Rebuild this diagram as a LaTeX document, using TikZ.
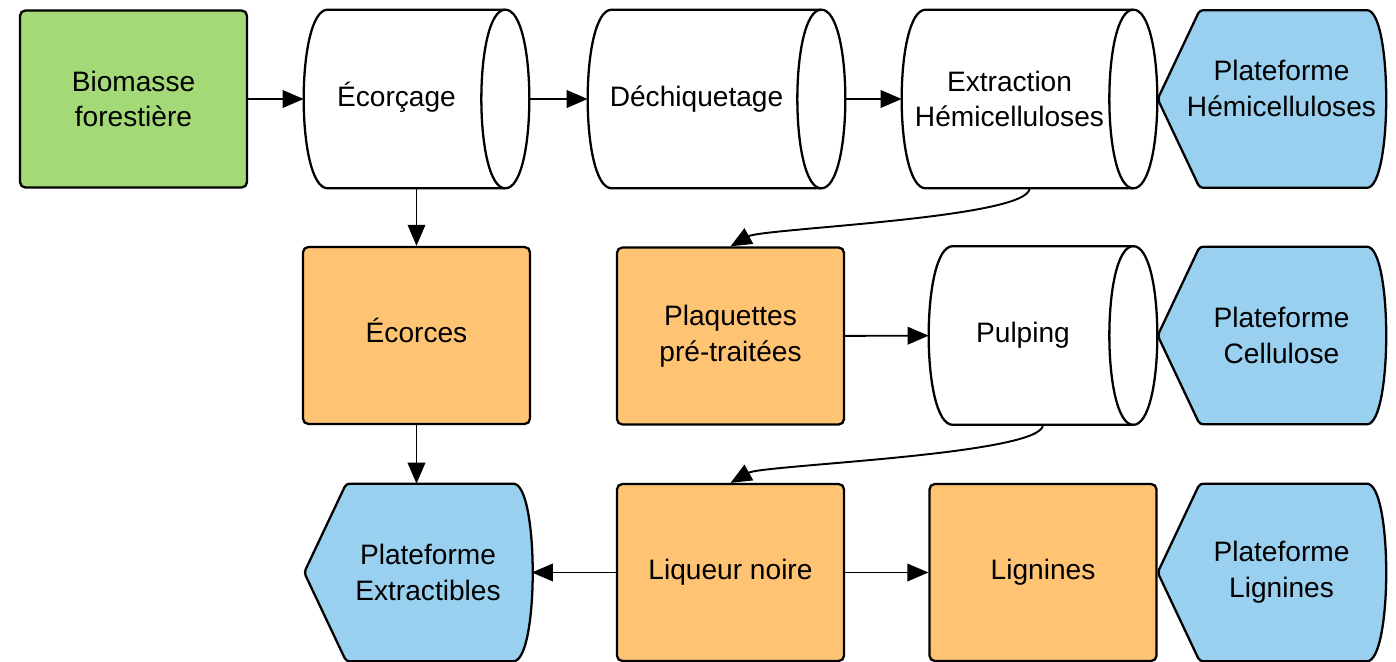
\documentclass[tikz,border=0pt]{standalone}
\usepackage{fontspec}
\setmainfont{Liberation Sans}
\usetikzlibrary{arrows.meta}
\usetikzlibrary{backgrounds}

\definecolor{vertbio}{RGB}{163,217,119}
\definecolor{orangeprod}{RGB}{255,195,116}
\definecolor{bleuplat}{RGB}{153,208,240}

\tikzset{
    retrait/.style 2 args={execute at begin node={\leftskip=#1 plus 1fil\rightskip=#2 plus 1fil\parfillskip=0pt\relax}},
    ligne/.style={text height=11.7pt, text depth=3.4pt},
    boite/.style={draw, line width=1.3pt, rounded corners=3pt, minimum width=4.54cm,
        minimum height=3.54cm, align=center, inner sep=0pt},
    produit/.style={boite, fill=orangeprod},
    procede/.style={minimum height=3.56cm, inner sep=0pt, text width=4.4cm, align=center, retrait={0pt}{0.8cm}},
    plateforme/.style={minimum width=4.54cm, minimum height=3.54cm, inner sep=0pt, text width=4.4cm,
        align=center, retrait={0.4cm}{0pt}},
    cylindre/.style={draw, line width=1.3pt, fill=white},
    contour/.style={draw, line width=1.3pt, fill=bleuplat, rounded corners=2pt},
    fleche/.style={line width=1.1pt, -{Triangle[length=12pt,width=10pt]}},
}

\begin{document}
\begin{tikzpicture}[x=0.02cm,y=-0.02cm,font=\fontsize{16}{20.4}\selectfont]
                \useasboundingbox (0,0) rectangle (1396,662);

                \node[boite, fill=vertbio] (bio) at (133.5,99) {Biomasse\\forestière};
                \node[procede, ligne, minimum width=4.5cm] (ecor) at (416.5,99) {Écorçage};
                \node[procede, ligne, minimum width=5.14cm] (dech) at (716.5,99) {Déchiquetage};
                \node[procede, minimum width=5.1cm, text width=4.8cm] (extr) at (1029.5,99) {Extraction\\Hémicelluloses};
                \node[plateforme, text depth=33pt] (phemi) at (1271.5,99) {Plateforme\\Hémicelluloses};

                \node[produit, ligne] (ecorces) at (416.5,335.5) {Écorces};
                \node[produit] (plaq) at (730.5,336) {Plaquettes\\pré-traitées};
                \node[procede, ligne, minimum width=4.56cm] (pulp) at (1043,335.5) {Pulping};
                \node[plateforme] (pcell) at (1271.5,335.5) {Plateforme\\Cellulose};

                \node[plateforme] (pextr) at (418,572.5) {Plateforme\\Extractibles};
                \node[produit, ligne] (liq) at (730.5,572.5) {Liqueur noire};
                \node[produit, ligne] (lign) at (1043,572.5) {Lignines};
                \node[plateforme] (plign) at (1271.5,572.5) {Plateforme\\Lignines};

                \begin{scope}[on background layer]
                    \foreach \n in {ecor,dech,extr,pulp}
                    {
                        \draw[cylindre] ([xshift=0.48cm]\n.north west) -- ([xshift=-0.48cm]\n.north east)
                            .. controls ([xshift=0.16cm]\n.north east) and ([xshift=0.16cm]\n.south east)
                            .. ([xshift=-0.48cm]\n.south east) -- ([xshift=0.48cm]\n.south west)
                            .. controls ([xshift=-0.16cm]\n.south west) and ([xshift=-0.16cm]\n.north west)
                            .. cycle;
                        \draw[cylindre] ([xshift=-0.48cm]\n.north east)
                            .. controls ([xshift=-1.12cm]\n.north east) and ([xshift=-1.12cm]\n.south east)
                            .. ([xshift=-0.48cm]\n.south east);
                    }
                    \foreach \n in {phemi,pcell,plign,pextr}
                        \draw[contour] (\n.west) -- ([xshift=0.84cm]\n.north west)
                            -- ([xshift=-0.44cm]\n.north east)
                            .. controls ([xshift=0.147cm]\n.north east) and ([xshift=0.147cm]\n.south east)
                            .. ([xshift=-0.44cm]\n.south east)
                            -- ([xshift=0.84cm]\n.south west) -- cycle;
                \end{scope}

                \draw[fleche] (bio) -- (ecor);
                \draw[fleche] (ecor) -- (dech);
                \draw[fleche] (dech) -- (extr);
                \draw[fleche] (ecor.south) -- (ecorces.north);
                \draw[fleche] (ecorces.south) -- (ecorces.south |- pextr.north);
                \draw[fleche] (extr.south) .. controls +(0,30) and +(32,-18) .. (plaq.north);
                \draw[fleche] (plaq) -- (pulp);
                \draw[fleche] (pulp.south) .. controls +(0,30) and +(32,-18) .. (liq.north);
                \draw[fleche] (liq) -- (pextr);
                \draw[fleche] (liq) -- (lign);
            \end{tikzpicture}
\end{document}
